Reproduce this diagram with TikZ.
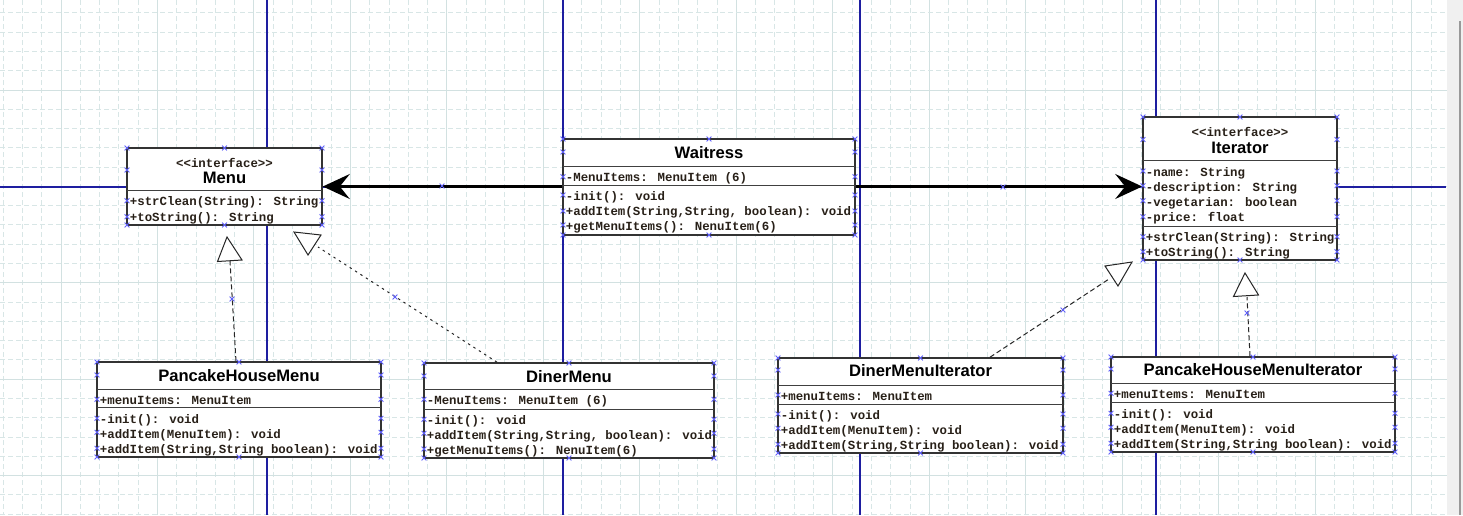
\documentclass[tikz,border=0pt]{standalone}
\usepackage{fontspec}
\setmainfont{Liberation Sans}
\newfontfamily\umlmono{Liberation Mono}
\usetikzlibrary{fit,arrows.meta}

\definecolor{gridminor}{RGB}{216,230,230}
\definecolor{gridmajor}{RGB}{210,225,225}
\definecolor{guide}{RGB}{30,30,160}
\definecolor{handle}{RGB}{95,95,250}
\definecolor{membertext}{RGB}{40,32,24}

\tikzset{
  gridminorline/.style={draw=gridminor, line width=0.5pt, dash pattern=on 2.5pt off 1.5pt},
  gridmajorline/.style={draw=gridmajor, line width=0.5pt},
  guideline/.style={draw=guide, line width=0.8pt},
  umlbox/.style={draw=black!80, line width=0.8pt, fill=white, inner sep=0pt},
  umlsep/.style={draw=black!75, line width=0.5pt},
  member/.style={anchor=mid west, inner sep=0pt, text=membertext,
    font=\umlmono\bfseries\fontsize{6.2pt}{7pt}\selectfont},
  stereo/.style={anchor=mid, inner sep=0pt, text=membertext,
    font=\umlmono\bfseries\fontsize{6.2pt}{7pt}\selectfont},
  classname/.style={anchor=mid, inner sep=0pt, text=black,
    font=\bfseries\fontsize{8.3pt}{9pt}\selectfont},
  assoc/.style={draw=black, line width=1.2pt, -{Stealth[length=13.5pt, width=12.5pt, inset=5pt]}},
  realizedash/.style={draw=black!85, line width=0.5pt, dash pattern=on 2.5pt off 1.5pt},
  realizedot/.style={draw=black!85, line width=0.5pt, dash pattern=on 1.2pt off 2pt},
  hollowtri/.style={draw=black!85, line width=0.5pt, fill=white, line join=miter},
  pics/handlex/.style={code={
    \draw[handle, line width=0.45pt] (-2.4,-2.4) -- (2.4,2.4) (-2.4,2.4) -- (2.4,-2.4);}}
}

% class box: name, left, top, right, bottom (pixel units)
\newcommand\classbox[5]{%
  \coordinate (#1-nw) at (#2,#3);
  \coordinate (#1-se) at (#4,#5);
  \node[umlbox, fit=(#1-nw)(#1-se)] (#1) {};
}
% selection handles: left, top, right, bottom, row positions
\newcommand\handles[5]{%
  \pgfmathsetmacro\hmid{(#1+#3)/2}
  \foreach \hpx/\hpy in {#1/#2,\hmid/#2,#3/#2,#1/#4,\hmid/#4,#3/#4}
    {\pic at (\hpx,\hpy) {handlex};}
  \foreach \hpy in {#5}
    {\pic at (#1,\hpy) {handlex}; \pic at (#3,\hpy) {handlex};}
}

\begin{document}
\begin{tikzpicture}[x=0.5pt, y=-0.5pt]
\useasboundingbox (0,0) rectangle (1463,515);
\fill[white] (0,0) rectangle (1463,515);

% drawing grid
\begin{scope}
  \clip (0,0) rectangle (1447,515);
  \foreach \k in {-3,...,71} {
    \pgfmathsetmacro\gx{61+19.296*\k}
    \pgfmathtruncatemacro\gm{mod(\k+100,5)}
    \ifnum\gm=0 \draw[gridmajorline] (\gx,0) -- (\gx,515);
    \else \draw[gridminorline] (\gx,0) -- (\gx,515); \fi
  }
  \foreach \k in {-4,...,22} {
    \pgfmathsetmacro\gy{90+19.28*\k}
    \pgfmathtruncatemacro\gm{mod(\k+100,5)}
    \ifnum\gm=0 \draw[gridmajorline] (0,\gy) -- (1447,\gy);
    \else \draw[gridminorline] (0,\gy) -- (1447,\gy); \fi
  }
\end{scope}

% scroll bar
\fill[black!6] (1447,0) rectangle (1463,515);
\draw[black!40, line width=1pt] (1459.5,21) -- (1459.5,515);

% page guides
\foreach \gx in {267,563,860,1156} \draw[guideline] (\gx,0) -- (\gx,515);
\draw[guideline] (0,186.7) -- (1446,186.7);

% classes
\classbox{menu}{127}{148}{322}{225}
\classbox{waitress}{563}{139}{855}{235}
\classbox{iterator}{1143}{117}{1337}{260}
\classbox{phm}{97}{362}{381}{457}
\classbox{diner}{424}{363}{714}{458}
\classbox{dmi}{778}{358}{1063}{453}
\classbox{phmi}{1111}{357}{1395}{452}

% Menu
\draw[umlsep] (127,190.7) -- (322,190.7);
\node[stereo] (menu-st) at (224.5,162) {<<interface>>};
\node[classname] (menu-t) at (224.5,178.5) {Menu};
\node[member] (menu-m1) at (129.5,200.7) {+strClean(String): String};
\node[member] (menu-m2) at (129.5,216.2) {+toString(): String};

% Waitress
\draw[umlsep] (563,166.7) -- (855,166.7);
\draw[umlsep] (563,185.7) -- (855,185.7);
\node[classname] (waitress-t) at (709,153.5) {Waitress};
\node[member] (waitress-a1) at (565.5,176.5) {-MenuItems: MenuItem (6)};
\node[member] (waitress-m1) at (565.5,195.5) {-init(): void};
\node[member] (waitress-m2) at (565.5,210.5) {+addItem(String,String, boolean): void};
\node[member] (waitress-m3) at (565.5,225.5) {+getMenuItems(): NenuItem(6)};

% Iterator
\draw[umlsep] (1143,160.7) -- (1337,160.7);
\draw[umlsep] (1143,226.7) -- (1337,226.7);
\node[stereo] (iterator-st) at (1240,131.5) {<<interface>>};
\node[classname] (iterator-t) at (1240,148.5) {Iterator};
\node[member] (iterator-a1) at (1145.5,171) {-name: String};
\node[member] (iterator-a2) at (1145.5,186) {-description: String};
\node[member] (iterator-a3) at (1145.5,201) {-vegetarian: boolean};
\node[member] (iterator-a4) at (1145.5,216.5) {-price: float};
\node[member] (iterator-m1) at (1145.5,236.7) {+strClean(String): String};
\node[member] (iterator-m2) at (1145.5,251.7) {+toString(): String};

% PancakeHouseMenu
\draw[umlsep] (97,389.3) -- (381,389.3);
\draw[umlsep] (97,407.3) -- (381,407.3);
\node[classname] (phm-t) at (239,376.5) {PancakeHouseMenu};
\node[member] (phm-a1) at (99.5,399.3) {+menuItems: MenuItem};
\node[member] (phm-m1) at (99.5,418.3) {-init(): void};
\node[member] (phm-m2) at (99.5,432.8) {+addItem(MenuItem): void};
\node[member] (phm-m3) at (99.5,448.3) {+addItem(String,String boolean): void};

% DinerMenu
\draw[umlsep] (424,389.3) -- (714,389.3);
\draw[umlsep] (424,409.3) -- (714,409.3);
\node[classname] (diner-t) at (569,377.5) {DinerMenu};
\node[member] (diner-a1) at (426.5,399.3) {-MenuItems: MenuItem (6)};
\node[member] (diner-m1) at (426.5,419.3) {-init(): void};
\node[member] (diner-m2) at (426.5,433.8) {+addItem(String,String, boolean): void};
\node[member] (diner-m3) at (426.5,449) {+getMenuItems(): NenuItem(6)};

% DinerMenuIterator
\draw[umlsep] (778,385.7) -- (1063,385.7);
\draw[umlsep] (778,404.3) -- (1063,404.3);
\node[classname] (dmi-t) at (920.5,371.5) {DinerMenuIterator};
\node[member] (dmi-a1) at (780.5,395) {+menuItems: MenuItem};
\node[member] (dmi-m1) at (780.5,414) {-init(): void};
\node[member] (dmi-m2) at (780.5,428.8) {+addItem(MenuItem): void};
\node[member] (dmi-m3) at (780.5,444.3) {+addItem(String,String boolean): void};

% PancakeHouseMenuIterator
\draw[umlsep] (1111,383.3) -- (1395,383.3);
\draw[umlsep] (1111,402.3) -- (1395,402.3);
\node[classname] (phmi-t) at (1253,370.5) {PancakeHouseMenuIterator};
\node[member] (phmi-a1) at (1113.5,393.3) {+menuItems: MenuItem};
\node[member] (phmi-m1) at (1113.5,413.3) {-init(): void};
\node[member] (phmi-m2) at (1113.5,427.8) {+addItem(MenuItem): void};
\node[member] (phmi-m3) at (1113.5,443.3) {+addItem(String,String boolean): void};

% associations from Waitress
\coordinate (assoc-y) at (0,186.5);
\draw[assoc] (waitress.west |- assoc-y) -- (menu.east |- assoc-y);
\draw[assoc] (waitress.east |- assoc-y) -- (iterator.west |- assoc-y);

% realizations (hollow triangles stand apart from the interfaces)
\coordinate (phm-x) at (236,0);
\coordinate (phm-end) at (230,261);
\draw[realizedash] (phm.north -| phm-x) -- (phm-end);
\draw[hollowtri] (227,237) -- (217.5,261.5) -- (242,260) -- cycle;

\coordinate (diner-x) at (497,0);
\coordinate (diner-end) at (318,247);
\draw[realizedot] (diner.north -| diner-x) -- (diner-end);
\draw[hollowtri] (294,232) -- (321,235) -- (308,255) -- cycle;

\coordinate (dmi-x) at (990,0);
\coordinate (dmi-end) at (1109,279);
\draw[realizedash] (dmi.north -| dmi-x) -- (dmi-end);
\draw[hollowtri] (1105,266) -- (1132,262) -- (1118,286) -- cycle;

\coordinate (phmi-x) at (1250,0);
\coordinate (phmi-end) at (1247,297);
\draw[realizedash] (phmi.north -| phmi-x) -- (phmi-end);
\draw[hollowtri] (1245,273) -- (1233.5,296.5) -- (1258.5,295) -- cycle;

% selection handles
\handles{127}{148}{322}{225}{170,200.7,216.7}
\handles{563}{139}{855}{235}{152,176.7,195,211,225}
\handles{1143}{117}{1337}{260}{139.5,171,185.7,200.7,216.7,236.7,251.7}
\handles{97}{362}{381}{457}{375,399.3,418.3,432.3,448.3}
\handles{424}{363}{714}{458}{376,399.3,419.3,433.3,449}
\handles{778}{358}{1063}{453}{370,395,414,428.3,444.3}
\handles{1111}{357}{1395}{452}{369,393.3,413.3,427.3,443.3}
\foreach \hpx/\hpy in {232/299,395/297,1063/310,1247/313,442/186,1003/187}
  {\pic at (\hpx,\hpy) {handlex};}
\end{tikzpicture}
\end{document}
